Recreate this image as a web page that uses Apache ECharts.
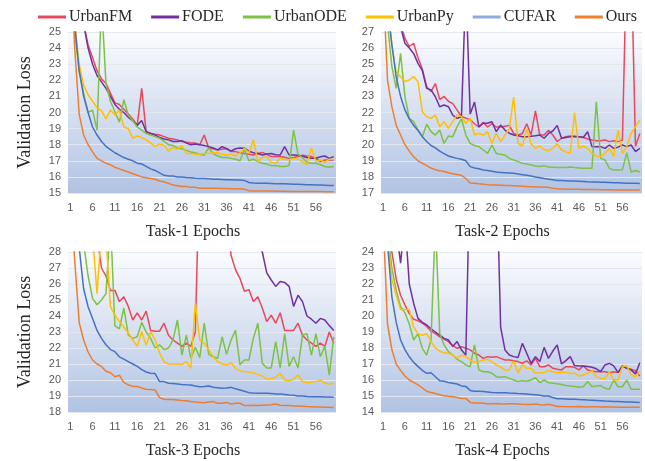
<!DOCTYPE html>
<html>
<head>
<meta charset="utf-8">
<script src="https://cdn.jsdelivr.net/npm/echarts@6/dist/echarts.min.js"></script>
<style>
  html, body { margin: 0; padding: 0; background: #fff; }
  #chart { width: 645px; height: 461px; }
</style>
</head>
<body>
<div id="chart"></div>
<script>
// epochs on the x axis
const epochs = [1, 2, 3, 4, 5, 6, 7, 8, 9, 10, 11, 12, 13, 14, 15, 16, 17, 18, 19, 20,
  21, 22, 23, 24, 25, 26, 27, 28, 29, 30, 31, 32, 33, 34, 35, 36, 37, 38, 39, 40,
  41, 42, 43, 44, 45, 46, 47, 48, 49, 50, 51, 52, 53, 54, 55, 56, 57, 58, 59, 60]

const names = ['UrbanFM', 'FODE', 'UrbanODE', 'UrbanPy', 'CUFAR', 'Ours']

// Task-1
const t1UrbanFM = [30, 29, 27, 25.5, 24.2, 23.4, 22.6, 22.1, 21.8, 21.2, 20.6, 20.5, 20.2, 19.9, 19.6, 19.2, 21.5, 18.8, 18.7, 18.65, 18.6, 18.5, 18.4, 18.35, 18.3, 18.2, 18.15, 18.1, 18.1, 18.0, 18.6, 17.8, 17.75, 17.67, 17.72, 17.77, 17.57, 17.57, 17.5, 17.46, 17.4, 17.36, 17.45, 17.52, 17.4, 17.26, 17.26, 17.26, 17.22, 17.15, 17.2, 17.26, 17.35, 17.3, 17.26, 17.15, 16.95, 17.05, 17.05, 17.05]
const t1FODE = [30, 29, 27, 25.5, 24.0, 23.0, 22.3, 21.9, 21.5, 21.0, 20.5, 20.2, 20.0, 19.7, 19.5, 19.2, 19.5, 18.8, 18.7, 18.6, 18.45, 18.35, 18.3, 18.2, 18.2, 18.25, 18.1, 18.0, 18.05, 18.0, 17.95, 17.88, 17.8, 17.68, 17.88, 17.75, 17.6, 17.75, 17.8, 17.78, 17.6, 17.5, 17.45, 17.36, 17.42, 17.45, 17.38, 17.36, 17.88, 17.36, 17.36, 17.34, 17.28, 17.2, 17.16, 17.16, 17.25, 17.3, 17.15, 17.26]
const t1UrbanODE = [30, 25, 22.6, 21.2, 20.0, 20.15, 18.9, 27, 21.8, 20.7, 20.05, 19.4, 20.8, 19.85, 19.5, 19.1, 18.9, 18.7, 18.6, 18.5, 18.4, 18.2, 18.0, 17.95, 17.8, 17.75, 17.65, 17.55, 17.5, 17.4, 17.35, 17.8, 17.45, 17.3, 17.2, 17.2, 17.15, 17.1, 17.0, 17.7, 17.0, 17.1, 16.95, 16.85, 16.8, 16.7, 16.7, 16.65, 16.65, 16.7, 18.9, 17.4, 17.2, 16.9, 16.85, 16.85, 16.75, 16.65, 16.6, 16.65]
const t1UrbanPy = [30, 25.5, 23.0, 21.7, 21.1, 20.7, 20.3, 20.1, 19.6, 20.15, 19.85, 20.15, 19.1, 19.0, 18.4, 18.55, 18.45, 18.3, 18.1, 17.9, 18.05, 17.95, 17.6, 17.85, 17.7, 17.95, 17.45, 17.45, 17.4, 17.4, 17.45, 17.45, 17.5, 17.5, 17.4, 17.35, 17.4, 17.3, 17.5, 17.77, 17.5, 18.3, 16.95, 17.2, 17.26, 16.9, 16.84, 17.15, 17.1, 17.05, 17.15, 17.1, 16.95, 16.74, 17.8, 16.95, 17.05, 16.9, 17.1, 17.1]
const t1CUFAR = [30, 25.5, 22.6, 21.0, 20.0, 19.1, 18.6, 18.2, 17.9, 17.7, 17.5, 17.35, 17.2, 17.1, 17.0, 16.85, 16.8, 16.65, 16.5, 16.4, 16.25, 16.1, 16.05, 16.05, 16.0, 16.0, 15.97, 15.95, 15.92, 15.9, 15.9, 15.88, 15.86, 15.85, 15.84, 15.82, 15.82, 15.8, 15.8, 15.78, 15.65, 15.62, 15.61, 15.6, 15.6, 15.59, 15.58, 15.58, 15.57, 15.56, 15.55, 15.54, 15.53, 15.52, 15.51, 15.5, 15.49, 15.48, 15.47, 15.46]
const t1Ours = [30, 24.0, 19.9, 18.6, 18.0, 17.55, 17.15, 17.0, 16.85, 16.75, 16.6, 16.5, 16.4, 16.3, 16.2, 16.1, 16.0, 15.95, 15.9, 15.85, 15.75, 15.7, 15.6, 15.5, 15.45, 15.4, 15.4, 15.35, 15.35, 15.3, 15.3, 15.3, 15.3, 15.3, 15.28, 15.28, 15.27, 15.27, 15.26, 15.24, 15.14, 15.13, 15.13, 15.12, 15.12, 15.12, 15.11, 15.11, 15.11, 15.1, 15.1, 15.1, 15.1, 15.09, 15.09, 15.09, 15.09, 15.08, 15.08, 15.08]

// Task-2
const t2UrbanFM = [30, 30, 29, 28.3, 27.5, 26.6, 26.1, 26.3, 25.4, 24.7, 23.6, 23.3, 23.8, 22.8, 23.0, 22.7, 22.55, 22.15, 21.75, 21.65, 21.55, 21.3, 21.1, 21.4, 21.1, 21.3, 21.1, 21.1, 21.15, 21.2, 20.7, 20.6, 20.7, 21.3, 20.6, 22.1, 20.6, 20.6, 20.9, 20.6, 20.2, 20.4, 20.5, 20.54, 20.5, 20.5, 20.46, 20.35, 20.29, 20.25, 20.25, 20.29, 20.19, 20.25, 20.19, 20.29, 32, 32, 19.9, 20.7]
const t2FODE = [30, 30, 29.5, 28.5, 27.3, 26.3, 26.0, 25.67, 25.05, 24.6, 23.5, 23.4, 22.98, 22.36, 22.47, 22.36, 21.84, 21.64, 21.74, 30, 21.9, 22.65, 21.1, 21.33, 21.33, 21.43, 20.81, 21.22, 20.91, 20.71, 20.6, 20.55, 20.5, 20.5, 20.52, 20.55, 20.6, 20.4, 20.7, 20.85, 21.2, 20.4, 20.45, 20.5, 20.53, 20.5, 20.45, 20.8, 19.88, 19.88, 19.88, 19.77, 19.98, 19.77, 19.85, 19.98, 19.88, 19.98, 19.57, 19.77]
const t2UrbanODE = [30, 27.5, 24.85, 23.5, 25.67, 23.0, 21.64, 21.43, 20.91, 20.5, 21.27, 20.81, 20.6, 20.91, 20.08, 20.54, 20.5, 21.12, 21.6, 20.6, 20.08, 19.95, 19.88, 19.67, 19.46, 19.98, 19.46, 19.4, 19.36, 19.15, 19.05, 18.95, 18.84, 18.8, 18.74, 18.68, 18.64, 18.7, 18.62, 18.6, 18.58, 18.58, 18.58, 18.62, 18.58, 18.56, 18.53, 18.53, 18.53, 22.67, 19.15, 19.05, 18.53, 18.43, 18.43, 18.45, 19.5, 18.3, 18.4, 18.3]
const t2UrbanPy = [30, 29, 26.2, 24.5, 24.23, 23.92, 24.02, 24.23, 23.92, 22.05, 21.74, 21.64, 21.84, 21.12, 21.43, 21.02, 21.43, 21.84, 21.74, 21.33, 21.64, 20.6, 20.71, 20.6, 20.81, 20.08, 20.71, 20.19, 20.6, 21.0, 22.95, 20.08, 19.92, 21.0, 20.04, 19.77, 19.92, 19.7, 19.63, 19.77, 20.08, 19.67, 19.55, 19.46, 21.99, 19.77, 19.92, 19.77, 19.46, 19.3, 19.26, 19.46, 19.77, 19.26, 20.91, 19.46, 19.88, 20.71, 21.12, 21.53]
const t2CUFAR = [30, 28.5, 26.2, 24.2, 23.0, 22.16, 21.6, 21.2, 20.9, 20.5, 20.2, 19.95, 19.8, 19.6, 19.45, 19.3, 19.22, 19.15, 19.1, 19.0, 18.64, 18.55, 18.5, 18.43, 18.4, 18.35, 18.3, 18.28, 18.26, 18.24, 18.22, 18.18, 18.14, 18.1, 18.06, 18.0, 17.95, 17.9, 17.86, 17.82, 17.78, 17.77, 17.76, 17.75, 17.74, 17.73, 17.72, 17.7, 17.69, 17.68, 17.67, 17.66, 17.65, 17.64, 17.63, 17.62, 17.61, 17.6, 17.6, 17.59]
const t2Ours = [30, 24.0, 22.36, 21.2, 20.6, 20.0, 19.6, 19.25, 19.0, 18.85, 18.7, 18.55, 18.45, 18.38, 18.33, 18.26, 18.2, 18.15, 18.1, 17.9, 17.62, 17.6, 17.57, 17.55, 17.52, 17.5, 17.49, 17.48, 17.47, 17.46, 17.45, 17.44, 17.42, 17.4, 17.39, 17.38, 17.37, 17.36, 17.35, 17.3, 17.26, 17.25, 17.24, 17.24, 17.23, 17.23, 17.22, 17.22, 17.21, 17.21, 17.2, 17.2, 17.2, 17.19, 17.19, 17.19, 17.18, 17.18, 17.18, 17.18]

// Task-3
const t3UrbanFM = [34, 33, 32, 31, 30, 29.5, 29, 27.0, 26.5, 25.6, 25.6, 24.9, 25.2, 24.6, 23.75, 24.2, 23.75, 24.3, 23.1, 23.05, 23.05, 23.55, 22.8, 22.5, 22.3, 22.1, 22.3, 22.1, 23.0, 34, 34, 34, 34, 34, 34, 31, 27.8, 26.9, 26.35, 25.55, 25.65, 24.9, 25.2, 24.5, 23.65, 24.05, 23.55, 24.2, 23.1, 23.1, 23.1, 23.55, 22.8, 22.5, 22.3, 22.1, 22.3, 22.1, 23.0, 22.3]
const t3FODE = [30, 30, 30, 30, 30, 30, 30, 30, 30, 30, 30, 30, 30, 30, 30, 30, 30, 30, 30, 30, 30, 30, 30, 30, 30, 30, 30, 30, 30, 30, 30, 30, 30, 30, 30, 30, 30, 30, 30, 30, 30, 29.5, 28.8, 28.0, 26.7, 26.25, 25.85, 26.15, 26.1, 25.85, 24.6, 25.3, 24.9, 24.0, 23.8, 23.55, 23.85, 23.75, 23.4, 23.1]
const t3UrbanODE = [32, 31, 30, 28.5, 26.5, 25.1, 24.7, 25.0, 25.4, 30, 23.4, 23.2, 24.5, 22.8, 22.6, 22.7, 23.6, 23.0, 22.6, 22.0, 22.2, 21.9, 22.0, 22.5, 23.75, 21.55, 22.8, 21.35, 22.05, 21.4, 23.55, 21.6, 21.45, 21.35, 22.7, 21.6, 22.5, 23.1, 20.95, 21.25, 21.25, 22.6, 23.55, 21.05, 20.75, 20.75, 22.4, 20.75, 22.9, 20.85, 21.45, 20.75, 22.8, 22.9, 21.55, 22.9, 21.45, 22.1, 20.3, 22.7]
const t3UrbanPy = [32, 31, 30, 29.5, 29.5, 29, 25.4, 29.5, 29, 24.58, 24.06, 23.65, 23.3, 22.95, 22.5, 22.1, 23.02, 22.19, 23.02, 22.5, 21.7, 21.15, 21.0, 21.0, 21.0, 20.98, 21.15, 20.73, 24.79, 22.5, 22.3, 21.88, 21.46, 21.15, 21.0, 20.94, 21.08, 20.73, 20.58, 20.52, 20.5, 20.44, 20.35, 20.25, 20.04, 20.1, 20.17, 20.42, 20.0, 19.96, 20.05, 20.31, 19.9, 19.83, 19.88, 19.9, 20.0, 19.79, 19.75, 19.79]
const t3CUFAR = [32, 30, 28.3, 25.7, 24.58, 23.85, 23.1, 22.6, 22.2, 21.9, 21.77, 21.45, 21.3, 21.15, 21.0, 20.85, 20.65, 20.5, 20.42, 20.4, 19.9, 19.9, 19.8, 19.78, 19.75, 19.72, 19.7, 19.69, 19.62, 19.58, 19.6, 19.63, 19.55, 19.52, 19.48, 19.5, 19.54, 19.45, 19.38, 19.3, 19.21, 19.18, 19.17, 19.17, 19.17, 19.15, 19.13, 19.12, 19.1, 19.06, 19.04, 19.0, 19.0, 18.97, 18.96, 18.96, 18.95, 18.94, 18.93, 18.92]
const t3Ours = [32, 27.5, 23.6, 22.5, 21.75, 21.25, 21.0, 20.85, 20.55, 20.45, 20.2, 20.3, 19.85, 19.7, 19.6, 19.6, 19.5, 19.42, 19.4, 19.38, 18.9, 18.8, 18.78, 18.78, 18.75, 18.72, 18.7, 18.66, 18.62, 18.6, 18.58, 18.62, 18.65, 18.55, 18.55, 18.6, 18.5, 18.55, 18.55, 18.4, 18.4, 18.42, 18.4, 18.42, 18.44, 18.45, 18.5, 18.42, 18.4, 18.4, 18.38, 18.38, 18.36, 18.34, 18.33, 18.32, 18.32, 18.3, 18.3, 18.28]

// Task-4
const t4UrbanFM = [28, 26, 24.0, 22.3, 21.3, 20.7, 20.15, 19.8, 19.7, 19.55, 19.35, 19.05, 18.9, 18.7, 18.55, 18.4, 18.15, 17.98, 18.08, 17.98, 17.88, 17.67, 17.56, 17.35, 17.46, 17.42, 17.46, 17.35, 17.25, 17.25, 17.2, 17.15, 17.05, 17.2, 16.94, 17.35, 16.83, 16.83, 16.94, 16.73, 16.67, 16.63, 16.83, 16.83, 16.79, 16.63, 16.88, 16.63, 16.56, 16.52, 16.52, 16.52, 16.46, 16.52, 16.46, 16.88, 16.73, 16.67, 16.58, 16.25]
const t4FODE = [30, 30, 28, 25.5, 23.3, 26, 22.0, 20.8, 19.85, 19.6, 19.44, 19.2, 19.0, 18.8, 18.6, 18.5, 18.1, 18.4, 17.88, 17.56, 30, 30, 30, 30, 30, 30, 30, 19.3, 17.88, 17.56, 17.46, 17.4, 18.29, 17.67, 17.04, 17.46, 17.15, 18.04, 17.35, 17.81, 18.19, 17.0, 17.21, 17.46, 16.9, 16.88, 16.88, 16.85, 16.8, 16.7, 16.52, 16.94, 17.04, 16.88, 16.46, 16.88, 16.73, 16.63, 16.38, 17.08]
const t4UrbanODE = [28, 25.5, 23.0, 21.6, 20.6, 20.2, 19.5, 18.5, 18.9, 17.98, 17.56, 18.5, 26, 18.9, 18.2, 17.77, 17.56, 17.29, 17.15, 16.94, 16.83, 18.2, 16.63, 16.52, 16.52, 16.42, 16.21, 16.17, 16.21, 16.1, 16.0, 15.9, 15.96, 15.92, 16.0, 16.15, 15.83, 16.0, 15.83, 15.8, 15.77, 15.72, 15.65, 15.63, 15.6, 15.55, 15.58, 15.9, 15.58, 15.62, 15.65, 15.48, 15.42, 16.0, 15.58, 15.58, 16.0, 15.42, 15.42, 15.42]
const t4UrbanPy = [28, 25, 22.3, 21.3, 20.4, 20.4, 20.4, 19.3, 18.9, 18.8, 18.9, 18.4, 18.0, 17.8, 17.7, 17.67, 17.56, 17.35, 17.56, 17.46, 17.25, 17.1, 17.15, 17.25, 17.29, 17.15, 16.94, 16.8, 16.63, 16.63, 17.19, 16.45, 16.95, 16.73, 16.73, 16.42, 16.46, 16.46, 16.6, 16.52, 16.46, 16.48, 16.48, 16.42, 16.42, 16.25, 16.31, 16.42, 16.58, 16.21, 16.1, 16.1, 16.5, 16.0, 16.0, 16.85, 16.9, 16.31, 16.2, 16.55]
const t4CUFAR = [28, 24.5, 21.2, 19.6, 18.5, 17.9, 17.45, 17.1, 16.85, 16.6, 16.42, 16.45, 16.2, 15.96, 15.92, 15.85, 15.8, 15.75, 15.63, 15.6, 15.35, 15.3, 15.3, 15.28, 15.25, 15.22, 15.2, 15.2, 15.2, 15.18, 15.17, 15.15, 15.14, 15.12, 15.1, 15.08, 15.05, 15.0, 15.0, 14.9, 14.83, 14.83, 14.82, 14.8, 14.8, 14.78, 14.77, 14.75, 14.74, 14.72, 14.7, 14.68, 14.67, 14.66, 14.65, 14.64, 14.63, 14.62, 14.61, 14.6]
const t4Ours = [26, 19.5, 17.9, 17.0, 16.6, 16.25, 16.0, 15.85, 15.7, 15.5, 15.3, 15.22, 15.15, 15.08, 15.02, 14.98, 14.95, 14.9, 14.85, 14.85, 14.6, 14.57, 14.57, 14.55, 14.52, 14.52, 14.53, 14.5, 14.5, 14.52, 14.52, 14.5, 14.48, 14.47, 14.47, 14.5, 14.45, 14.44, 14.48, 14.42, 14.35, 14.34, 14.33, 14.33, 14.33, 14.34, 14.33, 14.32, 14.33, 14.33, 14.32, 14.33, 14.32, 14.31, 14.3, 14.3, 14.3, 14.29, 14.29, 14.29]

const lineColors = ['#E8485C', '#7030A0', '#7DC242', '#FFC000', '#4472C4', '#ED7D31']
const legendColors = ['#E8485C', '#7030A0', '#7DC242', '#FFC000', '#8FAADC', '#F07F2E']

const panels = [
  { data: [t1UrbanFM, t1FODE, t1UrbanODE, t1UrbanPy, t1CUFAR, t1Ours], min: 15, max: 25, title: 'Task-1 Epochs', yName: 'Validation Loss' },
  { data: [t2UrbanFM, t2FODE, t2UrbanODE, t2UrbanPy, t2CUFAR, t2Ours], min: 17, max: 27, title: 'Task-2 Epochs', yName: '' },
  { data: [t3UrbanFM, t3FODE, t3UrbanODE, t3UrbanPy, t3CUFAR, t3Ours], min: 18, max: 28, title: 'Task-3 Epochs', yName: 'Validation Loss' },
  { data: [t4UrbanFM, t4FODE, t4UrbanODE, t4UrbanPy, t4CUFAR, t4Ours], min: 14, max: 24, title: 'Task-4 Epochs', yName: '' }
]

// plot areas
const boxes = [
  { left: 68, top: 32, width: 268, height: 161 },
  { left: 381, top: 32, width: 261, height: 161 },
  { left: 68, top: 252, width: 268, height: 160 },
  { left: 381, top: 252, width: 261, height: 160 }
]

const plotBg = {
  type: 'linear', x: 0, y: 0, x2: 0, y2: 1,
  colorStops: [{ offset: 0, color: '#fbfcfe' }, { offset: 1, color: '#b1c3e4' }]
}

const chart = echarts.init(document.getElementById('chart'))

const grid = boxes.map(b => Object.assign({ show: true, backgroundColor: plotBg, borderWidth: 0 }, b))

const xAxis = panels.map((p, i) => ({
  type: 'category',
  gridIndex: i,
  data: epochs,
  boundaryGap: true,
  axisLine: { show: false },
  axisTick: { show: false },
  axisLabel: { interval: 4, color: '#595959', fontSize: 11, fontFamily: 'Liberation Sans', margin: 9 },
  name: p.title,
  nameLocation: 'middle',
  nameGap: 31,
  nameTextStyle: { fontFamily: 'Liberation Serif', fontSize: 16, color: '#262626', padding: [0, 18, 0, 0] }
}))

const yAxis = panels.map((p, i) => ({
  type: 'value',
  gridIndex: i,
  min: p.min,
  max: p.max,
  interval: 1,
  axisLine: { show: false },
  axisTick: { show: false },
  axisLabel: { color: '#595959', fontSize: 11, fontFamily: 'Liberation Sans', margin: 7 },
  splitLine: { lineStyle: { color: '#e2e7f0', width: 1 } },
  name: p.yName,
  nameLocation: 'middle',
  nameGap: 34,
  nameTextStyle: { fontFamily: 'Liberation Serif', fontSize: 18, color: '#262626' }
}))

const series = []
panels.forEach((p, i) => {
  p.data.forEach((vals, k) => {
    series.push({
      name: names[k],
      type: 'line',
      xAxisIndex: i,
      yAxisIndex: i,
      data: vals,
      symbol: 'none',
      clip: true,
      lineStyle: { color: lineColors[k], width: 1.5 },
      itemStyle: { color: lineColors[k] }
    })
  })
})

chart.setOption({
  animation: false,
  legend: {
    top: 4,
    left: 33,
    icon: 'rect',
    itemWidth: 28,
    itemHeight: 3,
    itemGap: 19,
    textStyle: { fontFamily: 'Liberation Serif', fontSize: 16, color: '#262626', padding: [0, 0, 0, -2] },
    data: names.map((n, k) => ({ name: n, itemStyle: { color: legendColors[k] } }))
  },
  grid: grid,
  xAxis: xAxis,
  yAxis: yAxis,
  series: series
})
</script>
</body>
</html>
